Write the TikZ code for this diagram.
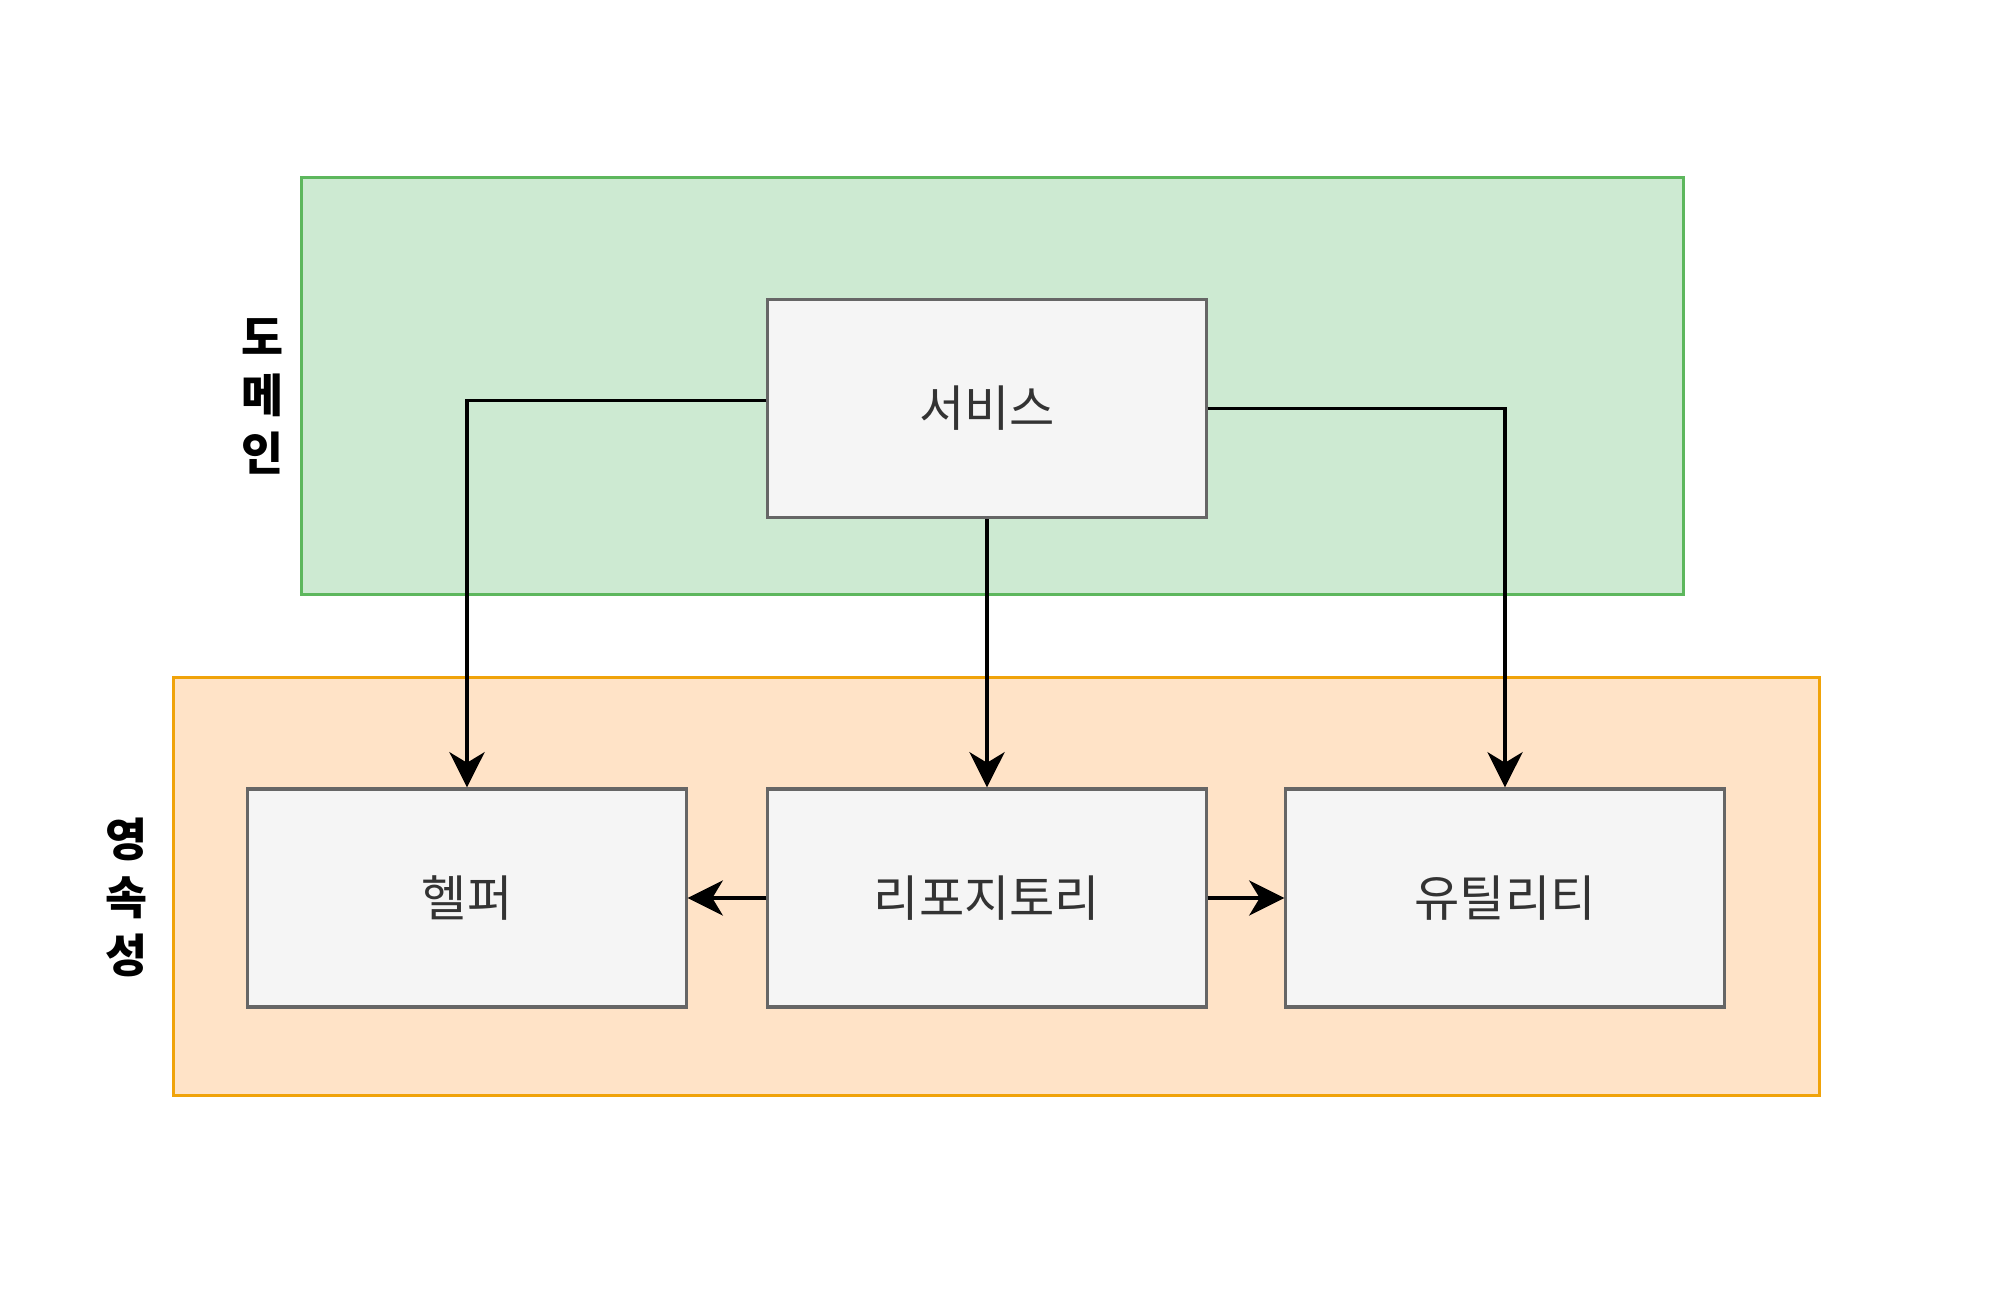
\documentclass[tikz,border=0pt]{standalone}
\usepackage{fontspec}
\setmainfont{Noto Sans CJK KR}
\usetikzlibrary{arrows.meta}

\definecolor{domfill}{HTML}{CDEAD2}
\definecolor{domline}{HTML}{5DB75D}
\definecolor{perfill}{HTML}{FFE3C7}
\definecolor{perline}{HTML}{F0A30A}
\definecolor{boxfill}{HTML}{F5F5F5}
\definecolor{boxline}{HTML}{666666}
\definecolor{boxtext}{HTML}{333333}

\begin{document}
\begin{tikzpicture}[x=0.01cm,y=-0.01cm,
    layer/.style={rectangle,inner sep=0pt,line width=0.9pt},
    comp/.style={rectangle,draw=boxline,fill=boxfill,line width=0.9pt,
      minimum width=4.38cm,minimum height=2.18cm,inner sep=0pt,
      text=boxtext,font=\fontsize{14}{16}\selectfont},
    side/.style={align=center,font=\fontsize{13}{16.5}\selectfont\bfseries},
    arr/.style={-{Stealth[length=10pt,width=10pt,inset=3pt]},line width=0.95pt}]
    \useasboundingbox (0,0) rectangle (2000,1316);

    % layers
    \node [layer,draw=domline,fill=domfill,minimum width=13.81cm,
    minimum height=4.16cm] (dom) at (992.5,386) {};
    \node [layer,draw=perline,fill=perfill,minimum width=16.45cm,
    minimum height=4.17cm] (per) at (996.5,886.5) {};

    \node [side] (domlbl) at (263,396) {도\\메\\인};
    \node [side] (perlbl) at (127,897) {영\\속\\성};

    % components
    \node [comp] (srv) at (987,408.5) {서비스};
    \node [comp] (hlp) at (467,898) {헬퍼};
    \node [comp] (repo) at (987,898) {리포지토리};
    \node [comp] (utl) at (1505,898) {유틸리티};

    \draw [arr] ([yshift=0.08cm]srv.west) -| (hlp.north);
    \draw [arr] (srv.south) -- (repo.north);
    \draw [arr] (srv.east) -| (utl.north);

    \draw [arr] (repo.west) -- (hlp.east);
    \draw [arr] (repo.east) -- (utl.west);
\end{tikzpicture}
\end{document}
